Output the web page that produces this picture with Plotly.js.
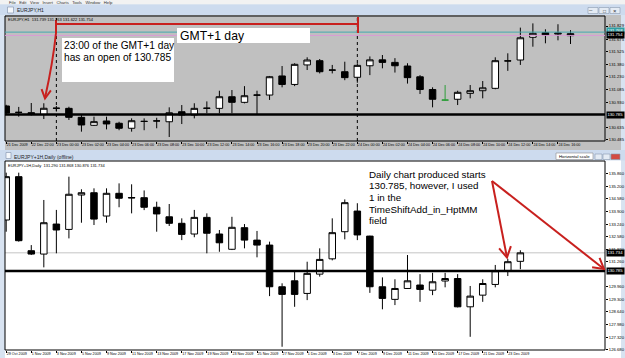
<!DOCTYPE html>
<html><head><meta charset="utf-8">
<script src="https://cdn.plot.ly/plotly-3.0.1.min.js"></script>
<style>html,body{margin:0;padding:0;background:#d8e3f1;overflow:hidden}#chart{width:625px;height:358px}</style>
</head><body><div id="chart"></div>
<script>
// ---------- EURJPY H1 (top window) ----------
const topTimes = ["22 Dec 20:00","22 Dec 21:00","22 Dec 22:00","22 Dec 23:00",
 "23 Dec 00:00","23 Dec 01:00","23 Dec 02:00","23 Dec 03:00","23 Dec 04:00","23 Dec 05:00","23 Dec 06:00","23 Dec 07:00",
 "23 Dec 08:00","23 Dec 09:00","23 Dec 10:00","23 Dec 11:00","23 Dec 12:00","23 Dec 13:00","23 Dec 14:00","23 Dec 15:00",
 "23 Dec 16:00","23 Dec 17:00","23 Dec 18:00","23 Dec 19:00","23 Dec 20:00","23 Dec 21:00","23 Dec 22:00","23 Dec 23:00",
 "24 Dec 00:00","24 Dec 01:00","24 Dec 02:00","24 Dec 03:00","24 Dec 04:00","24 Dec 05:00","24 Dec 06:00","24 Dec 07:00",
 "24 Dec 08:00","24 Dec 09:00","24 Dec 10:00","24 Dec 11:00","24 Dec 12:00","24 Dec 13:00","24 Dec 14:00","24 Dec 15:00",
 "24 Dec 16:00","24 Dec 17:00"];
const topOpen = [130.886,130.812,130.807,130.785,130.858,130.858,130.752,130.658,130.709,130.682,130.623,130.703,130.709,130.700,130.818,130.780,130.858,130.858,130.995,130.929,131.013,131.015,131.240,131.140,131.370,131.420,131.308,131.290,131.224,131.360,131.430,131.400,131.357,131.230,131.080,130.955,130.965,131.035,131.066,131.094,131.416,131.428,131.696,131.750,131.734,131.738];
const topHigh = [130.900,130.875,130.921,130.918,130.886,130.877,130.780,130.760,130.760,130.700,130.740,130.740,130.747,130.870,130.897,130.918,130.940,131.066,131.074,131.120,131.066,131.240,131.357,131.390,131.460,131.440,131.370,131.408,131.390,131.470,131.487,131.450,131.390,131.250,131.106,131.133,131.066,131.133,131.180,131.460,131.507,131.810,131.860,131.790,131.850,131.780];
const topLow = [130.790,130.760,130.774,130.732,130.820,130.721,130.583,130.650,130.610,130.600,130.583,130.600,130.623,130.520,130.673,130.740,130.800,130.800,130.800,130.917,130.780,130.957,131.106,131.120,131.310,131.270,131.270,131.190,131.160,131.250,131.330,131.280,131.150,131.027,130.870,130.945,130.897,130.976,130.976,131.083,131.300,131.370,131.585,131.625,131.660,131.617];
const topClose = [130.803,130.810,130.785,130.859,130.860,130.752,130.662,130.701,130.674,130.623,130.712,130.705,130.710,130.806,130.780,130.858,130.860,130.995,130.929,131.007,131.015,131.231,131.140,131.377,131.428,131.290,131.310,131.220,131.365,131.430,131.400,131.360,131.220,131.080,130.965,130.956,131.047,131.066,131.100,131.420,131.418,131.690,131.743,131.723,131.745,131.715];
const topGreenBar = "24 Dec 07:00";
const topTickText = ["21 Dec 2009","22 Dec 22:00","23 Dec 00:00","23 Dec 02:00","23 Dec 04:00","23 Dec 06:00","23 Dec 08:00","23 Dec 10:00","23 Dec 12:00","23 Dec 14:00","23 Dec 16:00","23 Dec 18:00","23 Dec 20:00","23 Dec 22:00","24 Dec 00:00","24 Dec 02:00","24 Dec 04:00","24 Dec 06:00","24 Dec 08:00","24 Dec 10:00","24 Dec 12:00","24 Dec 14:00","24 Dec 16:00"];
const topPriceTicks = [131.829,131.675,131.525,131.380,131.230,131.085,130.930,130.635,130.485];
const topSeparators = ["23 Dec 00:00","24 Dec 00:00"];
const topAskPrice = 131.757, topBidPrice = 131.718;

// ---------- EURJPY+1H Daily (bottom window) ----------
const dailyDates = ["29 Oct 2009","30 Oct 2009","1 Nov 2009","2 Nov 2009","3 Nov 2009","4 Nov 2009","5 Nov 2009","6 Nov 2009","9 Nov 2009","10 Nov 2009","11 Nov 2009","12 Nov 2009","13 Nov 2009","16 Nov 2009","17 Nov 2009","18 Nov 2009","19 Nov 2009","20 Nov 2009","23 Nov 2009","24 Nov 2009","25 Nov 2009","26 Nov 2009","27 Nov 2009","30 Nov 2009","1 Dec 2009","2 Dec 2009","3 Dec 2009","4 Dec 2009","7 Dec 2009","8 Dec 2009","9 Dec 2009","10 Dec 2009","11 Dec 2009","14 Dec 2009","15 Dec 2009","16 Dec 2009","17 Dec 2009","18 Dec 2009","21 Dec 2009","22 Dec 2009","23 Dec 2009","24 Dec 2009"];
const dailyOpen = [133.452,135.720,131.845,131.670,133.240,132.960,134.760,134.880,133.660,134.850,134.630,134.620,134.120,133.620,133.280,132.720,133.590,132.720,131.920,133.050,132.400,132.140,129.960,130.270,129.610,130.620,131.420,132.840,133.920,132.610,129.960,129.300,129.870,130.050,129.780,130.260,130.390,128.910,129.520,130.080,130.785,131.290];
const dailyHigh = [135.930,135.930,132.140,134.500,133.980,135.720,135.060,135.110,135.110,135.370,135.320,135.000,134.410,134.290,133.540,133.980,133.800,132.930,133.620,133.240,132.880,132.320,130.140,130.740,131.270,131.970,133.540,134.530,134.330,132.630,130.450,130.350,131.620,130.620,130.690,130.690,130.620,130.000,130.350,131.100,131.420,131.868];
const dailyLow = [132.840,132.320,131.620,130.975,131.710,132.490,133.310,133.190,133.310,134.120,133.800,133.970,132.840,133.140,132.400,132.550,131.710,131.790,131.880,131.970,131.500,129.470,126.820,128.910,129.260,130.490,131.340,132.440,132.400,129.640,128.780,129.000,129.850,129.170,129.520,129.930,128.880,127.340,129.170,129.930,130.520,130.876];
const dailyClose = [135.720,132.370,131.670,133.310,132.930,134.800,134.880,133.500,134.850,134.590,134.610,134.120,133.770,133.280,132.700,133.590,132.760,132.260,133.070,132.400,132.140,129.960,129.560,129.560,130.660,131.390,132.790,134.360,132.670,129.960,129.350,129.870,130.270,129.820,130.220,130.390,128.910,129.470,130.130,130.800,131.270,131.734];
const dailyPriceTicks = [135.860,135.200,134.580,133.900,133.240,132.580,131.920,131.260,129.960,129.300,128.640,127.980,127.320,126.680];
const dailyBidPrice = 131.734;
const levelPrice = 130.785;

// ---------- text ----------
const noteTop = ["23:00 of the GMT+1 day","has an open of 130.785"];
const noteSpan = "GMT+1 day";
const noteDaily = ["Daily chart produced starts","130.785, however, I used","1 in the","TimeShiftAdd_in_HptMM","field"];

// ---------- helpers ----------
const W=625,H=358, F='"Liberation Sans", Arial, sans-serif', RED='#c8201e';
const px=x=>x/W, py=y=>1-y/H;
function rect(x0,y0,x1,y1,fill,line,layer){return {type:'rect',xref:'paper',yref:'paper',x0:px(x0),x1:px(x1),y0:py(y1),y1:py(y0),fillcolor:fill,line:line||{width:0},layer:layer||'below'};}
function poly(pts,color,w){return {type:'path',xref:'paper',yref:'paper',path:'M'+pts.map(p=>px(p[0])+','+py(p[1])).join(' L'),line:{color:color,width:w},layer:'above'};}
function head(fx,fy,tx,ty,len,ang){const dx=tx-fx,dy=ty-fy,L=Math.hypot(dx,dy),ux=dx/L,uy=dy/L,a=ang*Math.PI/180;
  const arm=s=>[tx-len*(ux*Math.cos(a)-uy*Math.sin(a)*s), ty-len*(uy*Math.cos(a)+ux*Math.sin(a)*s)];
  return poly([arm(1),[tx,ty],arm(-1)],RED,2);}
function txt(x,y,t,size,extra){return Object.assign({xref:'paper',yref:'paper',x:px(x),y:py(y),text:t,showarrow:false,xanchor:'left',yanchor:'middle',borderpad:0,font:{family:F,size:size,color:'#000'}},extra||{});}

const gi = topTimes.indexOf(topGreenBar);
const mask=(arr)=>arr.map((v,i)=>i===gi?null:v);
const candleStyle={increasing:{line:{color:'#000',width:1},fillcolor:'#fff'},decreasing:{line:{color:'#000',width:1},fillcolor:'#000'},whiskerwidth:0,hoverinfo:'none',showlegend:false};

const traces=[
 Object.assign({type:'candlestick',x:topTimes,open:mask(topOpen),high:mask(topHigh),low:mask(topLow),close:mask(topClose),xaxis:'x',yaxis:'y'},candleStyle),
 {type:'candlestick',x:[topTimes[gi]],open:[topOpen[gi]],high:[topHigh[gi]],low:[topLow[gi]],close:[topClose[gi]],xaxis:'x',yaxis:'y',
  increasing:{line:{color:'#2e9e3a',width:1},fillcolor:'#2e9e3a'},decreasing:{line:{color:'#2e9e3a',width:1},fillcolor:'#2e9e3a'},whiskerwidth:0,hoverinfo:'none',showlegend:false},
 Object.assign({type:'candlestick',x:dailyDates,open:dailyOpen,high:dailyHigh,low:dailyLow,close:dailyClose,xaxis:'x2',yaxis:'y2'},candleStyle)
];

const xr=[-0.096,47.75];
const tickFont={family:F,size:4.2,color:'#000'};
const xTickFont={family:F,size:3.7,color:'#000'};
const xCommon={type:'category',range:xr,showgrid:false,zeroline:false,showline:false,ticks:'outside',ticklen:1.5,tickcolor:'#000',tickwidth:1,tickmode:'array',tickangle:0,ticklabelposition:'outside right',ticklabelstandoff:0,tickfont:xTickFont,rangeslider:{visible:false},fixedrange:true,domain:[px(5),px(605)]};
const yCommon={side:'right',showgrid:false,zeroline:false,showline:false,ticks:'outside',ticklen:2,tickcolor:'#000',tickwidth:1,tickmode:'array',tickformat:'.3f',tickfont:tickFont,fixedrange:true};

const layout={
 width:W,height:H,margin:{l:0,r:0,t:0,b:0},paper_bgcolor:'#d8e3f1',plot_bgcolor:'rgba(0,0,0,0)',showlegend:false,boxgap:0.26,
 xaxis:Object.assign({},xCommon,{anchor:'y',tickvals:topTimes.filter((d,i)=>i%2===0),ticktext:topTickText}),
 yaxis:Object.assign({},yCommon,{anchor:'x',domain:[py(141),py(16)],range:[130.473,131.947],tickvals:topPriceTicks}),
 xaxis2:Object.assign({},xCommon,{anchor:'y2',tickvals:dailyDates.filter((d,i)=>i%2===0),ticktext:dailyDates.filter((d,i)=>i%2===0)}),
 yaxis2:Object.assign({},yCommon,{anchor:'x2',domain:[py(350),py(161)],range:[126.65,136.54],tickvals:dailyPriceTicks}),
 shapes:[],annotations:[]
};
const S=layout.shapes, A=layout.annotations;

// window chrome
S.push(rect(0,0,625,4.5,'#f2f2f2'));
S.push(rect(0,4.5,625,15,'#cddbee'));
S.push(rect(5,15,621,150,'#c0c0c0'));
S.push(rect(0,150,625,160.5,'#cddbee'));
S.push(rect(5,160.5,621,358,'#ffffff'));
S.push(rect(7.5,7,13.5,13,'#f4f7fb',{color:'#7d8fa8',width:0.6}));
S.push(rect(6,152.5,11,158.5,'#f4f7fb',{color:'#7d8fa8',width:0.6}));
[[588,598],[599,609],[610,620]].forEach(b=>S.push(rect(b[0],7.5,b[1],13.5,'#e4ebf4',{color:'#8898ae',width:0.6})));
[[595,602,'#e4ebf4'],[603,610,'#e4ebf4'],[611,620,'#d24a44']].forEach(b=>S.push(rect(b[0],154,b[1],159.5,b[2],{color:'#8898ae',width:0.6})));
S.push(rect(556,153,593,159.5,'#ffffff',{color:'#8a8a8a',width:0.6}));
// plot frames
S.push(rect(5,16,605,141,'rgba(0,0,0,0)',{color:'#000',width:1},'above'));
S.push(rect(5,161,605,350,'rgba(0,0,0,0)',{color:'#000',width:1},'above'));
// period separators
topSeparators.forEach(t=>S.push({type:'line',xref:'x',yref:'paper',x0:topTimes.indexOf(t),x1:topTimes.indexOf(t),y0:py(141),y1:py(16),line:{color:'#000',width:1,dash:'dot'},layer:'below'}));
// horizontal levels
S.push({type:'line',xref:'paper',yref:'y',x0:px(5),x1:px(605),y0:topAskPrice,y1:topAskPrice,line:{color:'#43a9ad',width:1},layer:'above'});
S.push({type:'line',xref:'paper',yref:'y',x0:px(5),x1:px(605),y0:topBidPrice,y1:topBidPrice,line:{color:'#d99ad6',width:1},layer:'above'});
S.push({type:'line',xref:'paper',yref:'y',x0:px(5),x1:px(605),y0:levelPrice,y1:levelPrice,line:{color:'#000',width:2.5},layer:'above'});
S.push({type:'line',xref:'paper',yref:'y2',x0:px(5),x1:px(605),y0:dailyBidPrice,y1:dailyBidPrice,line:{color:'#c4c4c4',width:1},layer:'below'});
S.push({type:'line',xref:'paper',yref:'y2',x0:px(5),x1:px(605),y0:levelPrice,y1:levelPrice,line:{color:'#000',width:2.5},layer:'above'});
// note boxes
S.push(rect(62,38,174,82,'#ffffff',null,'above'));
S.push(rect(177,28,310,43,'#ffffff',null,'above'));
// red marks (top)
S.push(poly([[56,24],[358,24]],RED,2));
S.push(poly([[358,17],[358,33]],RED,2));
S.push({type:'path',xref:'paper',yref:'paper',path:`M${px(56)},${py(20)} L${px(56)},${py(33)} Q${px(53)},${py(62)} ${px(45)},${py(98)}`,line:{color:RED,width:2},layer:'above'});
S.push(head(49,70,45,98.5,10,28));
// red arrows (bottom)
S.push(poly([[492,181],[507,257.5]],RED,2));
S.push(head(492,181,507,257.5,12,30));
S.push(poly([[492,181],[604,269]],RED,2));
S.push(head(492,181,604,269,12,30));

// texts
A.push(txt(8,2.4,'File   Edit   View   Insert   Charts   Tools   Window   Help',4.2,{font:{family:F,size:4.2,color:'#333'}}));
A.push(txt(16,10,'EURJPY,H1',5,{font:{family:F,size:5,color:'#222'}}));
A.push(txt(7,19.5,'EURJPY,H1  131.739 131.763 131.622 131.754',4));
A.push(txt(13,156.5,'EURJPY+1H,Daily (offline)',5,{font:{family:F,size:5,color:'#222'}}));
A.push(txt(7,165.5,'EURJPY+1H,Daily  131.290 131.868 130.876 131.734',4));
A.push(txt(574.5,156.3,'Horizontal scale',4.3,{xanchor:'center'}));
A.push(txt(590.5,10.3,'–',6,{xanchor:'center',font:{family:F,size:6,color:'#333'}}));
A.push(txt(604,10.5,'□',5,{xanchor:'center',font:{family:F,size:5,color:'#333'}}));
A.push(txt(615,10.5,'×',6,{xanchor:'center',font:{family:F,size:6,color:'#333'}}));
noteTop.forEach((t,i)=>A.push(txt(62.5,45.5+12*i,t,10.2)));
A.push(txt(178.5,35.5,noteSpan,12.2));
noteDaily.forEach((t,i)=>A.push(txt(367.5,174.5+11.5*i,t,9.8)));
// price boxes on the right scale
function priceBox(yref,price,label,bg){A.push({xref:'paper',yref:yref,x:px(605.5),y:price,text:label,showarrow:false,xanchor:'left',yanchor:'middle',bgcolor:bg,borderpad:0.4,font:{family:F,size:4.2,color:'#fff'}});}
priceBox('y',levelPrice,levelPrice.toFixed(3),'#000');
priceBox('y',topAskPrice+0.012,'131.768','#2f9ea3');
priceBox('y',topBidPrice,'131.754','#000');
priceBox('y2',dailyBidPrice,dailyBidPrice.toFixed(3),'#000');
priceBox('y2',levelPrice,levelPrice.toFixed(3),'#000');

Plotly.newPlot('chart',traces,layout,{staticPlot:true,displayModeBar:false});
</script></body></html>
